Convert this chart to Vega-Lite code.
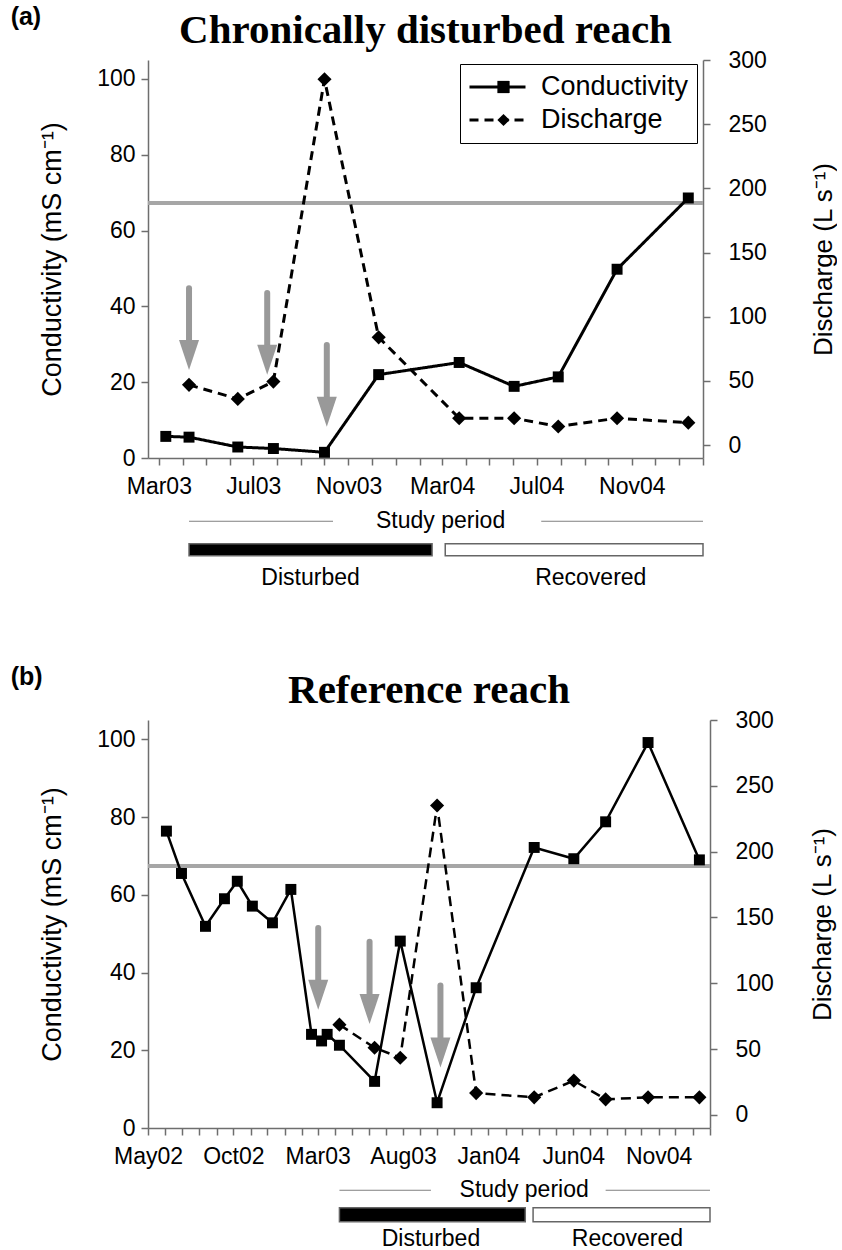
{
  "$schema": "https://vega.github.io/schema/vega-lite/v6.json",
  "background": "white",
  "padding": {"left": 10, "top": 5, "right": 0, "bottom": 0},
  "config": {
    "view": {"stroke": null},
    "font": "Liberation Sans",
    "axis": {"labelColor": "black", "titleColor": "black", "domainColor": "#6e6e6e", "tickColor": "#6e6e6e", "domainWidth": 1.5, "tickWidth": 1.5, "grid": false, "labelFont": "Liberation Sans", "titleFont": "Liberation Sans", "titleFontWeight": "normal"}
  },
  "datasets": {
    "a_cond": [
      {"date": "2003-03-10", "value": 5.7},
      {"date": "2003-04-09", "value": 5.5},
      {"date": "2003-06-11", "value": 2.9},
      {"date": "2003-07-27", "value": 2.5},
      {"date": "2003-10-01", "value": 1.5},
      {"date": "2003-12-10", "value": 22.0},
      {"date": "2004-03-23", "value": 25.2},
      {"date": "2004-06-02", "value": 18.9},
      {"date": "2004-07-29", "value": 21.4},
      {"date": "2004-10-13", "value": 49.8},
      {"date": "2005-01-13", "value": 68.6}
    ],
    "a_dis": [
      {"date": "2003-04-09", "value": 47},
      {"date": "2003-06-11", "value": 36},
      {"date": "2003-07-27", "value": 49.5},
      {"date": "2003-10-01", "value": 285},
      {"date": "2003-12-10", "value": 84},
      {"date": "2004-03-23", "value": 21},
      {"date": "2004-06-02", "value": 21},
      {"date": "2004-07-29", "value": 14.5},
      {"date": "2004-10-13", "value": 21},
      {"date": "2005-01-13", "value": 17.5}
    ],
    "a_arrows": [
      {"date": "2003-04-09", "top": 44.8, "head": 27.2},
      {"date": "2003-07-19", "top": 43.5, "head": 25.9},
      {"date": "2003-10-04", "top": 29.8, "head": 12.2}
    ],
    "a_ref": [{"value": 67.3}],
    "a_period": [
      {"start": "2003-04-09", "end": "2003-10-12"},
      {"start": "2004-07-07", "end": "2005-02-01"}
    ],
    "a_plabel": [{"date": "2004-02-28", "text": "Study period"}],
    "a_status": [
      {"status": "Disturbed", "start": "2003-04-09", "end": "2004-02-17", "label_date": "2003-09-13"},
      {"status": "Recovered", "start": "2004-03-05", "end": "2005-02-01", "label_date": "2004-09-09"}
    ],
    "b_cond": [
      {"date": "2002-06-03", "value": 76.4},
      {"date": "2002-06-30", "value": 65.5},
      {"date": "2002-08-12", "value": 51.9},
      {"date": "2002-09-15", "value": 59.0},
      {"date": "2002-10-08", "value": 63.5},
      {"date": "2002-11-04", "value": 57.1},
      {"date": "2002-12-10", "value": 52.8},
      {"date": "2003-01-12", "value": 61.4},
      {"date": "2003-02-18", "value": 24.1},
      {"date": "2003-03-08", "value": 22.4},
      {"date": "2003-03-18", "value": 24.1},
      {"date": "2003-04-09", "value": 21.3},
      {"date": "2003-06-11", "value": 12.0},
      {"date": "2003-07-27", "value": 48.1},
      {"date": "2003-10-01", "value": 6.5},
      {"date": "2003-12-10", "value": 36.1},
      {"date": "2004-03-23", "value": 72.2},
      {"date": "2004-06-02", "value": 69.3},
      {"date": "2004-07-29", "value": 78.8},
      {"date": "2004-10-13", "value": 99.2},
      {"date": "2005-01-13", "value": 69.0}
    ],
    "b_dis": [
      {"date": "2003-04-09", "value": 68.5},
      {"date": "2003-06-11", "value": 51},
      {"date": "2003-07-27", "value": 43.4},
      {"date": "2003-10-01", "value": 235},
      {"date": "2003-12-10", "value": 16.5},
      {"date": "2004-03-23", "value": 13.3},
      {"date": "2004-06-02", "value": 26},
      {"date": "2004-07-29", "value": 11.8},
      {"date": "2004-10-13", "value": 13.3},
      {"date": "2005-01-13", "value": 13.3}
    ],
    "b_arrows": [
      {"date": "2003-03-02", "top": 51.5, "head": 34.3},
      {"date": "2003-06-02", "top": 47.9, "head": 30.6},
      {"date": "2003-10-07", "top": 36.7, "head": 19.4}
    ],
    "b_ref": [{"value": 67.4}],
    "b_period": [
      {"start": "2003-04-09", "end": "2003-09-20"},
      {"start": "2004-07-29", "end": "2005-02-01"}
    ],
    "b_plabel": [{"date": "2004-03-05", "text": "Study period"}],
    "b_status": [
      {"status": "Disturbed", "start": "2003-04-09", "end": "2004-03-07", "label_date": "2003-09-20"},
      {"status": "Recovered", "start": "2004-03-21", "end": "2005-02-01", "label_date": "2004-09-06"}
    ]
  },
  "spacing": 72,
  "vconcat": [
    {
      "title": {"text": "(a)", "anchor": "start", "frame": "bounds", "fontSize": 25, "fontWeight": "bold", "font": "Liberation Sans", "color": "black", "dx": -28, "dy": 20, "offset": 0},
      "spacing": 9,
      "vconcat": [
        {
          "width": 555,
          "height": 398,
          "title": {"text": "Chronically disturbed reach", "font": "Liberation Serif", "fontSize": 41, "fontWeight": "bold", "anchor": "middle", "offset": -3, "color": "black"},
          "resolve": {"scale": {"y": "independent"}},
          "layer": [
            {
              "layer": [
                {
                  "data": {"name": "a_ref"},
                  "mark": {"type": "rule", "stroke": "#a6a6a6", "strokeWidth": 4},
                  "encoding": {
                    "y": {"field": "value", "type": "quantitative", "title": "Conductivity (mS cm⁻¹)", "scale": {"domain": [0, 105], "nice": false, "zero": false},
                      "axis": {"values": [0, 20, 40, 60, 80, 100], "labelFontSize": 23, "titleFontSize": 27, "tickSize": 7, "labelPadding": 6, "titlePadding": 30}}
                  }
                },
                {
                  "data": {"name": "a_arrows"},
                  "mark": {"type": "rule", "stroke": "#999999", "strokeWidth": 6, "strokeCap": "round"},
                  "encoding": {
                    "x": {"field": "date", "type": "temporal", "title": null, "scale": {"type": "utc", "domain": [{"year": 2003, "month": 2, "date": 15, "utc": true}, {"year": 2005, "month": 2, "date": 1, "utc": true}]}},
                    "y": {"field": "top", "type": "quantitative", "title": "Conductivity (mS cm⁻¹)", "scale": {"domain": [0, 105], "nice": false, "zero": false}},
                    "y2": {"field": "head"}
                  }
                },
                {
                  "data": {"name": "a_arrows"},
                  "mark": {"type": "point", "shape": "M-0.667,-1L0.667,-1L0,1Z", "size": 900, "filled": true, "color": "#999999", "opacity": 1},
                  "encoding": {
                    "x": {"field": "date", "type": "temporal", "title": null, "scale": {"type": "utc", "domain": [{"year": 2003, "month": 2, "date": 15, "utc": true}, {"year": 2005, "month": 2, "date": 1, "utc": true}]}},
                    "y": {"field": "head", "type": "quantitative", "title": "Conductivity (mS cm⁻¹)", "scale": {"domain": [0, 105], "nice": false, "zero": false}}
                  }
                },
                {
                  "data": {"name": "a_cond"},
                  "mark": {"type": "line", "color": "black", "strokeWidth": 3},
                  "encoding": {
                    "x": {"field": "date", "type": "temporal", "title": null, "scale": {"type": "utc", "domain": [{"year": 2003, "month": 2, "date": 15, "utc": true}, {"year": 2005, "month": 2, "date": 1, "utc": true}]},
                      "axis": {"tickCount": {"interval": "month", "step": 1}, "labelExpr": "utcmonth(datum.value) % 4 == 2 ? utcFormat(datum.value, '%b%y') : ''", "labelFontSize": 23, "tickSize": 7, "labelPadding": 10, "labelDx": -6, "labelOverlap": false, "labelFlush": false, "labelBound": false}},
                    "y": {"field": "value", "type": "quantitative", "title": "Conductivity (mS cm⁻¹)", "scale": {"domain": [0, 105], "nice": false, "zero": false}},
                    "strokeDash": {"datum": "Conductivity", "type": "nominal", "scale": {"domain": ["Conductivity", "Discharge"], "range": [[1, 0], [9, 6]]},
                      "legend": {"title": null, "orient": "none", "legendX": 312, "legendY": 4, "strokeColor": "black", "fillColor": "white", "padding": 8, "labelFontSize": 27, "labelFont": "Liberation Sans", "labelColor": "black", "symbolSize": 3136, "symbolStrokeWidth": 3, "symbolStrokeColor": "black", "symbolType": "stroke", "clipHeight": 30, "labelOffset": 14, "rowPadding": 3, "cornerRadius": 0, "zindex": 1}}
                  }
                },
                {
                  "data": {"name": "a_cond"},
                  "mark": {"type": "point", "shape": "square", "filled": true, "size": 120, "color": "black", "opacity": 1},
                  "encoding": {
                    "x": {"field": "date", "type": "temporal", "title": null, "scale": {"type": "utc", "domain": [{"year": 2003, "month": 2, "date": 15, "utc": true}, {"year": 2005, "month": 2, "date": 1, "utc": true}]}},
                    "y": {"field": "value", "type": "quantitative", "title": "Conductivity (mS cm⁻¹)", "scale": {"domain": [0, 105], "nice": false, "zero": false}},
                    "shape": {"datum": "c", "type": "nominal", "scale": {"domain": ["c", "d"], "range": ["square", "diamond"]},
                      "legend": {"title": null, "orient": "none", "legendX": 312, "legendY": 4, "padding": 8, "labelFontSize": 27, "labelExpr": "''", "symbolSize": 150, "symbolOffset": 22, "symbolOpacity": 1, "symbolFillColor": "black", "clipHeight": 30, "labelOffset": 14, "rowPadding": 3, "zindex": 2}}
                  }
                }
              ]
            },
            {
              "layer": [
                {
                  "data": {"name": "a_dis"},
                  "mark": {"type": "line", "color": "black", "strokeWidth": 3},
                  "encoding": {
                    "x": {"field": "date", "type": "temporal", "title": null, "scale": {"type": "utc", "domain": [{"year": 2003, "month": 2, "date": 15, "utc": true}, {"year": 2005, "month": 2, "date": 1, "utc": true}]}},
                    "y": {"field": "value", "type": "quantitative", "title": "Discharge (L s⁻¹)", "scale": {"domain": [-10, 300], "nice": false, "zero": false},
                      "axis": {"orient": "right", "values": [0, 50, 100, 150, 200, 250, 300], "labelFontSize": 23, "titleFontSize": 26, "tickSize": 7, "labelPadding": 18, "titlePadding": 44, "titleAngle": 270, "titleBaseline": "top"}},
                    "strokeDash": {"datum": "Discharge", "type": "nominal", "scale": {"domain": ["Conductivity", "Discharge"], "range": [[1, 0], [9, 6]]},
                      "legend": {"title": null, "orient": "none", "legendX": 312, "legendY": 4, "strokeColor": "black", "fillColor": "white", "padding": 8, "labelFontSize": 27, "labelFont": "Liberation Sans", "labelColor": "black", "symbolSize": 3136, "symbolStrokeWidth": 3, "symbolStrokeColor": "black", "symbolType": "stroke", "clipHeight": 30, "labelOffset": 14, "rowPadding": 3, "cornerRadius": 0, "zindex": 1}}
                  }
                },
                {
                  "data": {"name": "a_dis"},
                  "mark": {"type": "point", "shape": "diamond", "filled": true, "size": 200, "color": "black", "opacity": 1},
                  "encoding": {
                    "x": {"field": "date", "type": "temporal", "title": null, "scale": {"type": "utc", "domain": [{"year": 2003, "month": 2, "date": 15, "utc": true}, {"year": 2005, "month": 2, "date": 1, "utc": true}]}},
                    "y": {"field": "value", "type": "quantitative", "title": "Discharge (L s⁻¹)", "scale": {"domain": [-10, 300], "nice": false, "zero": false}},
                    "shape": {"datum": "d", "type": "nominal", "scale": {"domain": ["c", "d"], "range": ["square", "diamond"]},
                      "legend": {"title": null, "orient": "none", "legendX": 312, "legendY": 4, "padding": 8, "labelFontSize": 27, "labelExpr": "''", "symbolSize": 150, "symbolOffset": 22, "symbolOpacity": 1, "symbolFillColor": "black", "clipHeight": 30, "labelOffset": 14, "rowPadding": 3, "zindex": 2}}
                  }
                }
              ]
            }
          ]
        },
        {
          "width": 555,
          "height": 85.5,
          "layer": [
            {
              "data": {"name": "a_period"},
              "mark": {"type": "rule", "stroke": "#808080", "strokeWidth": 1},
              "encoding": {
                "x": {"field": "start", "type": "temporal", "title": null, "axis": null, "scale": {"type": "utc", "domain": [{"year": 2003, "month": 2, "date": 15, "utc": true}, {"year": 2005, "month": 2, "date": 1, "utc": true}]}},
                "x2": {"field": "end"},
                "y": {"datum": "period", "type": "nominal", "axis": null, "scale": {"domain": ["period", "bar", "label"], "paddingInner": 0.58, "paddingOuter": 0.29}}
              }
            },
            {
              "data": {"name": "a_plabel"},
              "mark": {"type": "text", "fontSize": 23, "color": "black", "font": "Liberation Sans"},
              "encoding": {
                "x": {"field": "date", "type": "temporal", "title": null, "axis": null, "scale": {"type": "utc", "domain": [{"year": 2003, "month": 2, "date": 15, "utc": true}, {"year": 2005, "month": 2, "date": 1, "utc": true}]}},
                "y": {"datum": "period", "type": "nominal", "axis": null, "scale": {"domain": ["period", "bar", "label"], "paddingInner": 0.58, "paddingOuter": 0.29}},
                "text": {"field": "text"}
              }
            },
            {
              "data": {"name": "a_status"},
              "mark": {"type": "rect", "stroke": "#666666", "strokeWidth": 1.5},
              "encoding": {
                "x": {"field": "start", "type": "temporal", "title": null, "axis": null, "scale": {"type": "utc", "domain": [{"year": 2003, "month": 2, "date": 15, "utc": true}, {"year": 2005, "month": 2, "date": 1, "utc": true}]}},
                "x2": {"field": "end"},
                "y": {"datum": "bar", "type": "nominal", "axis": null, "scale": {"domain": ["period", "bar", "label"], "paddingInner": 0.58, "paddingOuter": 0.29}},
                "fill": {"field": "status", "type": "nominal", "legend": null, "scale": {"domain": ["Disturbed", "Recovered"], "range": ["black", "white"]}}
              }
            },
            {
              "data": {"name": "a_status"},
              "mark": {"type": "text", "fontSize": 23, "color": "black", "font": "Liberation Sans"},
              "encoding": {
                "x": {"field": "label_date", "type": "temporal", "title": null, "axis": null, "scale": {"type": "utc", "domain": [{"year": 2003, "month": 2, "date": 15, "utc": true}, {"year": 2005, "month": 2, "date": 1, "utc": true}]}},
                "y": {"datum": "label", "type": "nominal", "axis": null, "scale": {"domain": ["period", "bar", "label"], "paddingInner": 0.58, "paddingOuter": 0.29}},
                "text": {"field": "status"}
              }
            }
          ]
        }
      ]
    },
    {
      "title": {"text": "(b)", "anchor": "start", "frame": "bounds", "fontSize": 25, "fontWeight": "bold", "font": "Liberation Sans", "color": "black", "dx": -28, "dy": 20, "offset": 0},
      "spacing": 10,
      "vconcat": [
        {
          "width": 562,
          "height": 408,
          "title": {"text": "Reference reach", "font": "Liberation Serif", "fontSize": 41, "fontWeight": "bold", "anchor": "middle", "offset": -3, "color": "black"},
          "resolve": {"scale": {"y": "independent"}},
          "layer": [
            {
              "layer": [
                {
                  "data": {"name": "b_ref"},
                  "mark": {"type": "rule", "stroke": "#a6a6a6", "strokeWidth": 4},
                  "encoding": {
                    "y": {"field": "value", "type": "quantitative", "title": "Conductivity (mS cm⁻¹)", "scale": {"domain": [0, 105], "nice": false, "zero": false},
                      "axis": {"values": [0, 20, 40, 60, 80, 100], "labelFontSize": 23, "titleFontSize": 27, "tickSize": 7, "labelPadding": 6, "titlePadding": 30}}
                  }
                },
                {
                  "data": {"name": "b_arrows"},
                  "mark": {"type": "rule", "stroke": "#999999", "strokeWidth": 6, "strokeCap": "round"},
                  "encoding": {
                    "x": {"field": "date", "type": "temporal", "title": null, "scale": {"type": "utc", "domain": [{"year": 2002, "month": 5, "date": 1, "utc": true}, {"year": 2005, "month": 2, "date": 1, "utc": true}]}},
                    "y": {"field": "top", "type": "quantitative", "title": "Conductivity (mS cm⁻¹)", "scale": {"domain": [0, 105], "nice": false, "zero": false}},
                    "y2": {"field": "head"}
                  }
                },
                {
                  "data": {"name": "b_arrows"},
                  "mark": {"type": "point", "shape": "M-0.667,-1L0.667,-1L0,1Z", "size": 900, "filled": true, "color": "#999999", "opacity": 1},
                  "encoding": {
                    "x": {"field": "date", "type": "temporal", "title": null, "scale": {"type": "utc", "domain": [{"year": 2002, "month": 5, "date": 1, "utc": true}, {"year": 2005, "month": 2, "date": 1, "utc": true}]}},
                    "y": {"field": "head", "type": "quantitative", "title": "Conductivity (mS cm⁻¹)", "scale": {"domain": [0, 105], "nice": false, "zero": false}}
                  }
                },
                {
                  "data": {"name": "b_cond"},
                  "mark": {"type": "line", "color": "black", "strokeWidth": 2.5},
                  "encoding": {
                    "x": {"field": "date", "type": "temporal", "title": null, "scale": {"type": "utc", "domain": [{"year": 2002, "month": 5, "date": 1, "utc": true}, {"year": 2005, "month": 2, "date": 1, "utc": true}]},
                      "axis": {"tickCount": {"interval": "month", "step": 1}, "labelExpr": "((utcyear(datum.value) - 2002) * 12 + utcmonth(datum.value)) % 5 == 4 ? utcFormat(datum.value, '%b%y') : ''", "labelFontSize": 23, "tickSize": 7, "labelPadding": 10, "labelDx": -6, "labelOverlap": false, "labelFlush": false, "labelBound": false}},
                    "y": {"field": "value", "type": "quantitative", "title": "Conductivity (mS cm⁻¹)", "scale": {"domain": [0, 105], "nice": false, "zero": false}}
                  }
                },
                {
                  "data": {"name": "b_cond"},
                  "mark": {"type": "point", "shape": "square", "filled": true, "size": 120, "color": "black", "opacity": 1},
                  "encoding": {
                    "x": {"field": "date", "type": "temporal", "title": null, "scale": {"type": "utc", "domain": [{"year": 2002, "month": 5, "date": 1, "utc": true}, {"year": 2005, "month": 2, "date": 1, "utc": true}]}},
                    "y": {"field": "value", "type": "quantitative", "title": "Conductivity (mS cm⁻¹)", "scale": {"domain": [0, 105], "nice": false, "zero": false}}
                  }
                }
              ]
            },
            {
              "layer": [
                {
                  "data": {"name": "b_dis"},
                  "mark": {"type": "line", "color": "black", "strokeWidth": 2.5, "strokeDash": [10, 6]},
                  "encoding": {
                    "x": {"field": "date", "type": "temporal", "title": null, "scale": {"type": "utc", "domain": [{"year": 2002, "month": 5, "date": 1, "utc": true}, {"year": 2005, "month": 2, "date": 1, "utc": true}]}},
                    "y": {"field": "value", "type": "quantitative", "title": "Discharge (L s⁻¹)", "scale": {"domain": [-10, 300], "nice": false, "zero": false},
                      "axis": {"orient": "right", "values": [0, 50, 100, 150, 200, 250, 300], "labelFontSize": 23, "titleFontSize": 26, "tickSize": 7, "labelPadding": 18, "titlePadding": 36, "titleAngle": 270, "titleBaseline": "top"}}
                  }
                },
                {
                  "data": {"name": "b_dis"},
                  "mark": {"type": "point", "shape": "diamond", "filled": true, "size": 200, "color": "black", "opacity": 1},
                  "encoding": {
                    "x": {"field": "date", "type": "temporal", "title": null, "scale": {"type": "utc", "domain": [{"year": 2002, "month": 5, "date": 1, "utc": true}, {"year": 2005, "month": 2, "date": 1, "utc": true}]}},
                    "y": {"field": "value", "type": "quantitative", "title": "Discharge (L s⁻¹)", "scale": {"domain": [-10, 300], "nice": false, "zero": false}}
                  }
                }
              ]
            }
          ]
        },
        {
          "width": 562,
          "height": 73.5,
          "layer": [
            {
              "data": {"name": "b_period"},
              "mark": {"type": "rule", "stroke": "#808080", "strokeWidth": 1},
              "encoding": {
                "x": {"field": "start", "type": "temporal", "title": null, "axis": null, "scale": {"type": "utc", "domain": [{"year": 2002, "month": 5, "date": 1, "utc": true}, {"year": 2005, "month": 2, "date": 1, "utc": true}]}},
                "x2": {"field": "end"},
                "y": {"datum": "period", "type": "nominal", "axis": null, "scale": {"domain": ["period", "bar", "label"], "paddingInner": 0.43, "paddingOuter": 0.215}}
              }
            },
            {
              "data": {"name": "b_plabel"},
              "mark": {"type": "text", "fontSize": 23, "color": "black", "font": "Liberation Sans"},
              "encoding": {
                "x": {"field": "date", "type": "temporal", "title": null, "axis": null, "scale": {"type": "utc", "domain": [{"year": 2002, "month": 5, "date": 1, "utc": true}, {"year": 2005, "month": 2, "date": 1, "utc": true}]}},
                "y": {"datum": "period", "type": "nominal", "axis": null, "scale": {"domain": ["period", "bar", "label"], "paddingInner": 0.43, "paddingOuter": 0.215}},
                "text": {"field": "text"}
              }
            },
            {
              "data": {"name": "b_status"},
              "mark": {"type": "rect", "stroke": "#666666", "strokeWidth": 1.5},
              "encoding": {
                "x": {"field": "start", "type": "temporal", "title": null, "axis": null, "scale": {"type": "utc", "domain": [{"year": 2002, "month": 5, "date": 1, "utc": true}, {"year": 2005, "month": 2, "date": 1, "utc": true}]}},
                "x2": {"field": "end"},
                "y": {"datum": "bar", "type": "nominal", "axis": null, "scale": {"domain": ["period", "bar", "label"], "paddingInner": 0.43, "paddingOuter": 0.215}},
                "fill": {"field": "status", "type": "nominal", "legend": null, "scale": {"domain": ["Disturbed", "Recovered"], "range": ["black", "white"]}}
              }
            },
            {
              "data": {"name": "b_status"},
              "mark": {"type": "text", "fontSize": 23, "color": "black", "font": "Liberation Sans"},
              "encoding": {
                "x": {"field": "label_date", "type": "temporal", "title": null, "axis": null, "scale": {"type": "utc", "domain": [{"year": 2002, "month": 5, "date": 1, "utc": true}, {"year": 2005, "month": 2, "date": 1, "utc": true}]}},
                "y": {"datum": "label", "type": "nominal", "axis": null, "scale": {"domain": ["period", "bar", "label"], "paddingInner": 0.43, "paddingOuter": 0.215}},
                "text": {"field": "status"}
              }
            }
          ]
        }
      ]
    }
  ]
}
